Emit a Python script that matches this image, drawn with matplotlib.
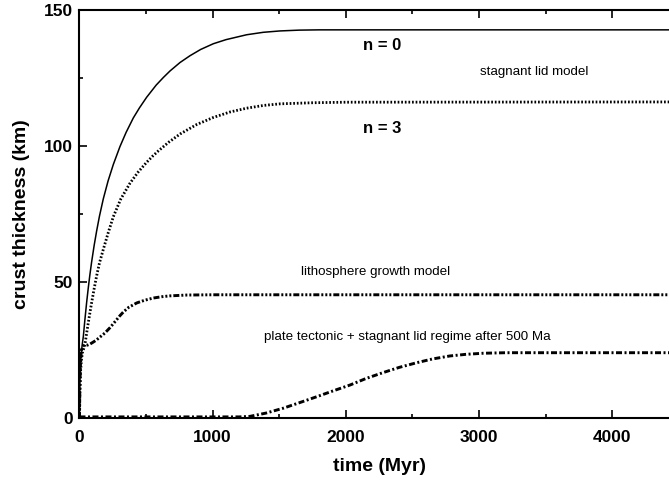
import matplotlib
matplotlib.use("Agg")
import matplotlib.pyplot as plt
from matplotlib.ticker import MultipleLocator

plt.rcParams['font.family'] = ['Liberation Sans Narrow', 'Liberation Sans', 'DejaVu Sans']
plt.rcParams['lines.scale_dashes'] = False

# n = 0 stagnant lid (solid)
t_n0 = [0, 3, 6, 10, 16, 22, 29, 40, 54, 66, 78, 91, 110, 129, 150, 179, 215, 254, 304, 350, 404, 450,
        504, 576, 630, 680, 755, 830, 910, 1005, 1100, 1255, 1380, 1505, 1650, 1800, 2500, 4500]
v_n0 = [0, 12, 18, 22, 25, 27.5, 30, 35.8, 42.6, 47.8, 52.6, 57.3, 63.4, 68.8, 74.2, 80.6, 87.2, 93.2, 99.8,
        105.0, 110.3, 114.0, 117.9, 122.4, 125.2, 127.6, 130.7, 133.2, 135.5, 137.6, 139.1, 140.9, 141.8,
        142.3, 142.6, 142.7, 142.7, 142.7]

# n = 3 stagnant lid (dotted)
t_n3 = [0, 3, 8, 14, 22, 32, 41, 52, 66, 78, 92, 110, 129, 150, 179, 215, 254, 310, 379, 440, 504, 550,
        592, 670, 755, 880, 1005, 1130, 1255, 1380, 1505, 1750, 2000, 4500]
v_n3 = [0, 10, 17, 21, 24, 25.5, 27, 30.6, 35, 38.6, 42.6, 47.5, 52.3, 57, 62, 68, 74, 80.5, 86.3, 90.4,
        94.0, 96.3, 98.2, 101.4, 104.4, 107.9, 110.5, 112.5, 113.9, 114.9, 115.5, 115.9, 116.1, 116.2]

# lithosphere growth model
t_lith = [0, 3, 7, 12, 20, 30, 45, 60, 80, 100, 125, 150, 190, 229, 270, 300, 330, 370, 430, 490, 554, 620,
          680, 805, 1000, 4500]
v_lith = [0, 12, 19, 23.5, 26, 26.6, 26.7, 26.8, 27.2, 27.8, 28.6, 29.6, 31.2, 33.2, 35.6, 37.4, 39, 40.7,
          42.3, 43.3, 44.1, 44.6, 44.9, 45.2, 45.3, 45.3]

# plate tectonic + stagnant lid regime after 500 Ma
t_plate = [0, 1200, 1280, 1400, 1530, 1650, 1780, 1900, 2030, 2150, 2280, 2400, 2530, 2650, 2780, 2900,
           3030, 3200, 4500]
v_plate = [0.4, 0.4, 0.6, 1.8, 3.6, 5.6, 7.8, 9.9, 12.1, 14.5, 16.7, 18.6, 20.3, 21.7, 22.8, 23.4,
           23.8, 24.0, 24.0]

px = 0.72
fig = plt.figure(figsize=(6.69, 4.83), dpi=100)
ax = fig.add_axes([0.1188, 0.1346, 0.896, 0.8447])

ax.plot(t_n0, v_n0, color='black', lw=1.1, solid_capstyle='butt')
ax.plot(t_n3, v_n3, color='black', lw=2.0, linestyle=(0, (1.7 * px, 1.9 * px)), dash_capstyle='butt')
ax.plot(t_lith, v_lith, color='black', lw=2.1,
        linestyle=(0, (6 * px, 2 * px, 2 * px, 2 * px, 2 * px, 2 * px, 2 * px, 2 * px)), dash_capstyle='butt')
ax.plot(t_plate, v_plate, color='black', lw=2.1,
        linestyle=(0, (6 * px, 2.5 * px, 2 * px, 2.5 * px)), dash_capstyle='butt')

ax.set_xlim(0, 4500)
ax.set_ylim(0, 150)
ax.xaxis.set_major_locator(MultipleLocator(1000))
ax.xaxis.set_minor_locator(MultipleLocator(500))
ax.yaxis.set_major_locator(MultipleLocator(50))
ax.yaxis.set_minor_locator(MultipleLocator(25))
ax.tick_params(which='both', direction='in', top=True, right=False, width=1.2)
ax.tick_params(which='major', length=6, labelsize=12.5)
ax.tick_params(axis='x', which='major', pad=9)
ax.tick_params(axis='y', which='major', pad=5)
ax.tick_params(which='minor', length=3)
for lab in ax.get_xticklabels() + ax.get_yticklabels():
    lab.set_fontweight('bold')
for s in ['left', 'bottom', 'top']:
    ax.spines[s].set_linewidth(1.5)
ax.spines['right'].set_visible(False)

ax.set_xlabel('time (Myr)', fontsize=14, fontweight='bold', labelpad=9)
ax.set_ylabel('crust thickness (km)', fontsize=14, fontweight='bold', labelpad=10)

ann = ['Liberation Sans', 'DejaVu Sans']
ax.text(2269, 137, 'n = 0', fontsize=12, fontweight='bold', ha='center', va='center')
ax.text(2269, 106.6, 'n = 3', fontsize=12, fontweight='bold', ha='center', va='center')
ax.text(3412, 127.3, 'stagnant lid model', fontsize=9.6, ha='center', va='center', family=ann)
ax.text(2224, 53.8, 'lithosphere growth model', fontsize=9.6, ha='center', va='center', family=ann)
ax.text(2462, 29.9, 'plate tectonic + stagnant lid regime after 500 Ma', fontsize=9.6,
        ha='center', va='center', family=ann)

fig.savefig('out.png', dpi=100)
